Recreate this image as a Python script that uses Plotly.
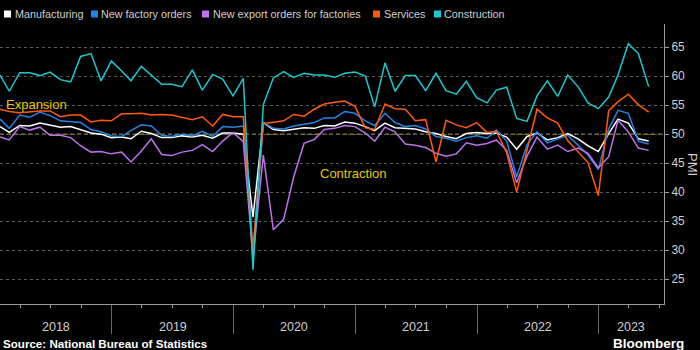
import pandas as pd
import plotly.graph_objects as go

# ---------------- data ----------------
months = pd.date_range("2018-01-31", "2023-05-31", freq="ME")

manufacturing = [
    51.3, 50.3, 51.5, 51.4, 51.9, 51.5, 51.2, 51.3, 50.8, 50.2, 50.0, 49.4,
    49.5, 49.2, 50.5, 50.1, 49.4, 49.4, 49.7, 49.5, 49.8, 49.3, 50.2, 50.2,
    50.0, 35.7, 52.0, 50.8, 50.6, 50.9, 51.1, 51.0, 51.5, 51.4, 52.1, 51.9,
    51.3, 50.6, 51.9, 51.1, 51.0, 50.9, 50.4, 50.1, 49.6, 49.2, 50.1, 50.3,
    50.1, 50.2, 49.5, 47.4, 49.6, 50.2, 49.0, 49.4, 50.1, 49.2, 48.0, 47.0,
    50.1, 52.6, 51.9, 49.2, 48.8,
]
new_orders = [
    52.6, 51.0, 53.3, 52.9, 53.8, 53.2, 52.3, 52.2, 52.0, 50.8, 50.4, 49.7,
    49.6, 50.6, 51.6, 51.4, 49.8, 49.6, 50.0, 49.7, 50.5, 49.6, 51.3, 51.2,
    51.4, 29.3, 52.0, 51.0, 50.9, 51.4, 51.7, 52.0, 52.8, 52.8, 53.9, 53.6,
    52.3, 51.5, 53.6, 52.0, 51.3, 51.5, 50.9, 49.6, 49.3, 48.8, 49.4, 49.7,
    49.3, 50.7, 48.8, 42.6, 48.2, 50.4, 48.5, 49.2, 49.8, 48.1, 46.4, 43.9,
    50.9, 54.1, 53.6, 48.8, 48.3,
]
export_orders = [
    49.5, 49.0, 51.3, 50.7, 51.2, 49.8, 49.8, 49.4, 48.0, 46.9, 47.0, 46.6,
    46.9, 45.2, 47.1, 49.2, 46.5, 46.3, 46.9, 47.2, 48.2, 47.0, 48.8, 50.3,
    48.7, 28.7, 46.4, 33.5, 35.3, 42.6, 48.4, 49.1, 50.8, 51.0, 51.5, 51.3,
    50.2, 48.8, 51.2, 50.4, 48.3, 48.1, 47.7, 46.7, 46.2, 46.6, 48.5, 48.1,
    48.4, 49.0, 47.2, 41.6, 46.2, 49.5, 47.4, 48.1, 47.0, 47.6, 46.7, 44.2,
    46.1, 52.4, 50.4, 47.6, 47.2,
]
services = [
    54.3, 53.9, 53.7, 53.9, 54.0, 54.0, 53.0, 53.3, 53.3, 52.1, 52.4, 52.3,
    53.5, 53.5, 53.6, 53.3, 53.4, 53.3, 52.9, 52.5, 53.0, 51.4, 53.4, 53.0,
    53.0, 30.1, 51.8, 52.1, 52.3, 53.4, 53.1, 54.3, 55.2, 55.5, 55.7, 54.8,
    51.1, 50.8, 55.2, 54.4, 54.3, 52.3, 52.5, 45.2, 52.4, 51.6, 51.1, 52.0,
    50.3, 50.5, 46.8, 40.0, 47.1, 54.3, 52.8, 51.9, 48.9, 47.0, 45.1, 39.4,
    54.0, 55.6, 56.9, 55.1, 53.8,
]
construction = [
    60.2, 57.4, 60.6, 60.6, 60.1, 60.7, 59.4, 59.0, 63.4, 63.9, 59.2, 62.6,
    60.9, 59.2, 61.7, 60.2, 58.6, 58.6, 58.2, 61.1, 57.6, 60.3, 59.5, 56.6,
    59.6, 26.6, 55.1, 59.7, 60.8, 59.8, 60.5, 60.2, 60.2, 59.8, 60.5, 60.7,
    60.0, 54.7, 62.3, 57.4, 60.1, 60.1, 57.5, 60.5, 57.5, 56.9, 59.1, 56.3,
    55.4, 57.6, 58.1, 52.7, 52.2, 56.6, 59.2, 56.5, 60.2, 58.2, 55.4, 54.4,
    56.4, 60.2, 65.6, 63.9, 58.2,
]

series_names = ["Manufacturing", "New factory orders", "New export orders for factories",
                "Services", "Construction"]
series_values = [manufacturing, new_orders, export_orders, services, construction]
series_colors = ["#ffffff", "#2383e6", "#bd72ee", "#ff5a0a", "#1cc8cc"]

y_ticks = [25, 30, 35, 40, 45, 50, 55, 60, 65]
years = [2018, 2019, 2020, 2021, 2022, 2023]

# ---------------- layout helpers ----------------
W, H = 700, 350
ML, MR, MT, MB = 0, 36, 24, 46
PW, PH = W - ML - MR, H - MT - MB
x_start, x_end = pd.Timestamp("2018-01-31"), pd.Timestamp("2023-07-16")


def px(x):
    return (x - ML) / PW


def py(y):
    return (H - MB - y) / PH


FONT = "Liberation Sans, Arial, sans-serif"
TXT = "#cfcfcf"

fig = go.Figure()
for name, vals, col in zip(series_names, series_values, series_colors):
    fig.add_trace(go.Scatter(x=months, y=vals, mode="lines", name=name,
                             line=dict(color=col, width=1.5), showlegend=False))

# 50 threshold line
fig.add_shape(type="line", xref="paper", x0=0, x1=1, yref="y", y0=50, y1=50,
              line=dict(color="#c8b400", width=1, dash="4px,3px"), layer="below")

annotations = []
# legend (squares + labels)
legend_sq = [4, 91, 202, 373, 434]
legend_tx = [13, 99, 211, 382, 442]
for name, col, sx, tx in zip(series_names, series_colors, legend_sq, legend_tx):
    fig.add_shape(type="rect", xref="paper", yref="paper",
                  x0=px(sx), x1=px(sx + 7), y0=py(17.5), y1=py(10.5),
                  fillcolor=col, line=dict(width=0))
    annotations.append(dict(text=name, xref="paper", yref="paper", x=px(tx), y=py(14),
                            xanchor="left", yanchor="middle", showarrow=False,
                            font=dict(family=FONT, size=10.8, color=TXT)))

# expansion / contraction
annotations.append(dict(text="Expansion", xref="paper", yref="paper", x=px(4), y=py(104),
                        xanchor="left", yanchor="middle", showarrow=False,
                        font=dict(family=FONT, size=13, color="#e6c800")))
annotations.append(dict(text="Contraction", xref="paper", yref="paper", x=px(318), y=py(173.5),
                        xanchor="left", yanchor="middle", showarrow=False,
                        font=dict(family=FONT, size=13, color="#e6c800")))

# year labels centered in visible band
for yr in years:
    a = max(pd.Timestamp(f"{yr}-01-01"), x_start)
    b = min(pd.Timestamp(f"{yr + 1}-01-01"), x_end)
    mid = a + (b - a) / 2
    annotations.append(dict(text=str(yr), xref="x", yref="paper", x=mid, y=py(327),
                            xanchor="center", yanchor="middle", showarrow=False,
                            font=dict(family=FONT, size=12.5, color=TXT)))

# axis title
annotations.append(dict(text="PMI", xref="paper", yref="paper", x=px(693), y=py(164),
                        xanchor="center", yanchor="middle", showarrow=False, textangle=90,
                        font=dict(family=FONT, size=13, color=TXT)))
# source + brand
annotations.append(dict(text="<b>Source: National Bureau of Statistics</b>", xref="paper", yref="paper",
                        x=px(1), y=py(343.5), xanchor="left", yanchor="middle", showarrow=False,
                        font=dict(family=FONT, size=11.6, color="#ffffff")))
annotations.append(dict(text="<b>Bloomberg</b>", xref="paper", yref="paper",
                        x=px(686), y=py(343), xanchor="right", yanchor="middle", showarrow=False,
                        font=dict(family=FONT, size=13.5, color="#ffffff")))

fig.update_layout(
    width=W, height=H,
    margin=dict(l=ML, r=MR, t=MT, b=MB, pad=0),
    paper_bgcolor="#000000", plot_bgcolor="#000000",
    showlegend=False,
    annotations=annotations,
    font=dict(family=FONT, color=TXT),
    xaxis=dict(
        type="date", range=[x_start, x_end],
        showgrid=False, zeroline=False,
        showline=True, linecolor="#9a9a9a", linewidth=1,
        tickmode="array", tickvals=[pd.Timestamp(f"{y}-01-01") for y in years[1:]],
        ticks="outside", ticklen=29, tickcolor="#6a6a6a", tickwidth=1,
        showticklabels=False,
        minor=dict(dtick="M3", tick0="2018-01-01", ticks="outside", ticklen=3,
                   tickcolor="#9a9a9a", showgrid=False),
    ),
    yaxis=dict(
        side="right", range=[20.7, 69.0],
        tickmode="array", tickvals=y_ticks,
        showgrid=True, gridcolor="#5a5a5a", griddash="dot", gridwidth=1,
        zeroline=False,
        showline=True, linecolor="#9a9a9a", linewidth=1,
        ticks="outside", ticklen=4, tickcolor="#9a9a9a",
        tickfont=dict(family=FONT, size=12, color=TXT),
    ),
)

fig.write_html("out.html")
